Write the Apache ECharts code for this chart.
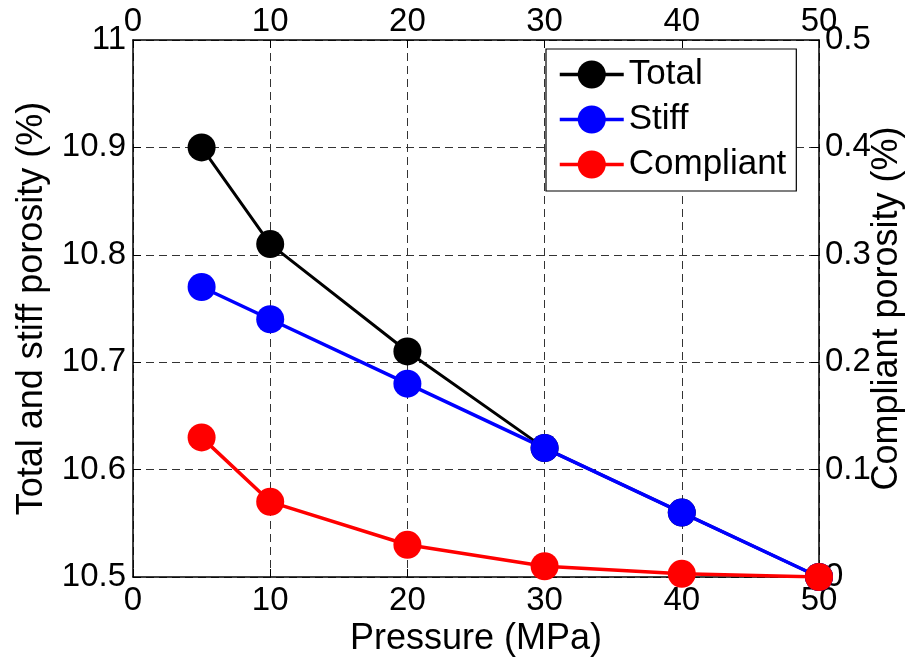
<!DOCTYPE html>
<html>
<head>
<meta charset="utf-8">
<script src="https://cdn.jsdelivr.net/npm/echarts@6/dist/echarts.min.js"></script>
<style>
  html, body { margin: 0; padding: 0; background: #fff; }
  #chart { width: 905px; height: 658px; }
</style>
</head>
<body>
<div id="chart"></div>
<script>
// Pressure steps (MPa)
const pressure = [5, 10, 20, 30, 40, 50];
// Porosity values (%)
const totalPorosity = [10.90, 10.81, 10.71, 10.62, 10.56, 10.50];
const stiffPorosity = [10.77, 10.74, 10.68, 10.62, 10.56, 10.50];
const compliantPorosity = [0.13, 0.07, 0.03, 0.01, 0.003, 0.0];

const FONT = 'Liberation Sans, Arial, sans-serif';

function pairs(xs, ys) {
  return xs.map((x, i) => [x, ys[i]]);
}

const chart = echarts.init(document.getElementById('chart'), null, { renderer: 'canvas' });

const dashedGrid = { show: true, lineStyle: { color: '#333', type: [8, 5], width: 1 } };
const frameLine = { show: true, onZero: false, lineStyle: { color: '#000', width: 1.5 } };
const inTicks = { show: true, inside: true, length: 8, lineStyle: { color: '#000', width: 1 } };
const tickText = { color: '#000', fontSize: 33, fontFamily: FONT };
const titleText = { color: '#000', fontSize: 36, fontFamily: FONT };

chart.setOption({
  animation: false,
  backgroundColor: '#fff',
  grid: {
    left: 133, right: 86, top: 40, bottom: 81,
    containLabel: false,
    outerBoundsMode: 'none'
  },
  legend: {
    orient: 'vertical',
    left: 546,
    top: 49,
    padding: [8, 10, 9, 12],
    itemGap: 10,
    itemWidth: 64,
    itemHeight: 35,
    borderColor: '#000',
    borderWidth: 1.2,
    backgroundColor: '#fff',
    lineStyle: { width: 3.5 },
    textStyle: { color: '#000', fontSize: 35, fontFamily: FONT },
    data: ['Total', 'Stiff', 'Compliant']
  },
  xAxis: [
    {
      type: 'value', position: 'bottom', min: 0, max: 50, interval: 10,
      name: 'Pressure (MPa)', nameLocation: 'middle', nameGap: 44,
      nameMoveOverlap: false,
      nameTextStyle: titleText,
      axisLine: frameLine, axisTick: inTicks,
      axisLabel: Object.assign({ margin: 7 }, tickText),
      splitLine: dashedGrid
    },
    {
      type: 'value', position: 'top', min: 0, max: 50, interval: 10,
      axisLine: frameLine, axisTick: inTicks,
      axisLabel: Object.assign({ margin: 2 }, tickText),
      splitLine: { show: false }
    }
  ],
  yAxis: [
    {
      type: 'value', position: 'left', min: 10.5, max: 11, interval: 0.1,
      name: 'Total and stiff porosity (%)', nameLocation: 'middle', nameGap: 83, nameRotate: 90,
      nameMoveOverlap: false,
      nameTextStyle: titleText,
      axisLine: frameLine, axisTick: inTicks,
      axisLabel: Object.assign({ margin: 7 }, tickText),
      splitLine: dashedGrid
    },
    {
      type: 'value', position: 'right', min: 0, max: 0.5, interval: 0.1,
      name: 'Compliant porosity (%)', nameLocation: 'middle', nameGap: 50, nameRotate: 90,
      nameMoveOverlap: false,
      nameTextStyle: titleText,
      axisLine: frameLine, axisTick: inTicks,
      axisLabel: Object.assign({ margin: 6 }, tickText),
      splitLine: { show: false }
    }
  ],
  series: [
    {
      name: 'Total', type: 'line', xAxisIndex: 0, yAxisIndex: 0,
      data: pairs(pressure, totalPorosity),
      symbol: 'circle', symbolSize: 28,
      itemStyle: { color: '#000' },
      lineStyle: { color: '#000', width: 3 }
    },
    {
      name: 'Stiff', type: 'line', xAxisIndex: 0, yAxisIndex: 0,
      data: pairs(pressure, stiffPorosity),
      symbol: 'circle', symbolSize: 28,
      itemStyle: { color: '#0000ff' },
      lineStyle: { color: '#0000ff', width: 3.5 }
    },
    {
      name: 'Compliant', type: 'line', xAxisIndex: 0, yAxisIndex: 1,
      data: pairs(pressure, compliantPorosity),
      symbol: 'circle', symbolSize: 28,
      itemStyle: { color: '#ff0000' },
      lineStyle: { color: '#ff0000', width: 3.5 }
    }
  ]
});
</script>
</body>
</html>
